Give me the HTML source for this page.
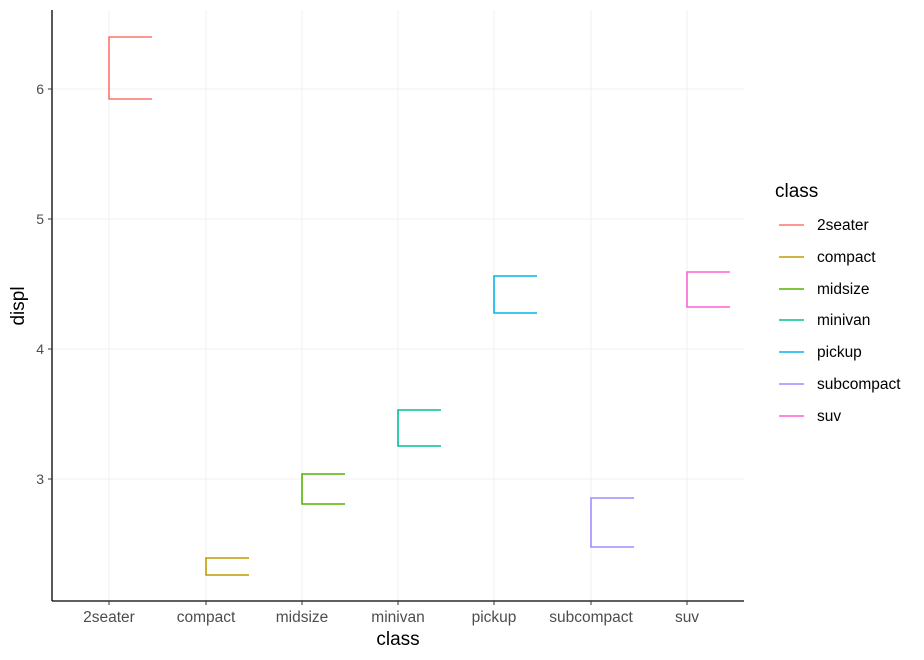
<!DOCTYPE html>
<html><head><meta charset="utf-8"><style>body{margin:0;background:#fff}svg{display:block}text{font-family:"Liberation Sans",sans-serif}</style></head><body>
<svg width="924" height="660" viewBox="0 0 924 660">
<g stroke="#f0f0f0" stroke-width="1">
<line x1="52" x2="744" y1="89" y2="89"/><line x1="52" x2="744" y1="219" y2="219"/><line x1="52" x2="744" y1="349" y2="349"/><line x1="52" x2="744" y1="479" y2="479"/>
<line x1="109" x2="109" y1="10" y2="601"/><line x1="206" x2="206" y1="10" y2="601"/><line x1="302" x2="302" y1="10" y2="601"/><line x1="398" x2="398" y1="10" y2="601"/><line x1="494" x2="494" y1="10" y2="601"/><line x1="591" x2="591" y1="10" y2="601"/><line x1="687" x2="687" y1="10" y2="601"/>
</g>
<g fill="none" stroke-width="1.6">
<path d="M152 37H109V99H152" stroke="#F8766D"/>
<path d="M249 558H206V575H249" stroke="#C49A00"/>
<path d="M345 474H302V504H345" stroke="#53B400"/>
<path d="M441 410H398V446H441" stroke="#00C094"/>
<path d="M537 276H494V313H537" stroke="#00B6EB"/>
<path d="M634 498H591V547H634" stroke="#A58AFF"/>
<path d="M730 272H687V307H730" stroke="#FB61D7"/>
</g>
<g stroke="#000" stroke-width="1.3"><line x1="52" x2="52" y1="10" y2="601"/><line x1="52" x2="744" y1="601" y2="601"/></g>
<g stroke="#333"><line x1="48" x2="52" y1="89" y2="89"/><line x1="48" x2="52" y1="219" y2="219"/><line x1="48" x2="52" y1="349" y2="349"/><line x1="48" x2="52" y1="479" y2="479"/>
<line x1="109" x2="109" y1="601" y2="605"/><line x1="206" x2="206" y1="601" y2="605"/><line x1="302" x2="302" y1="601" y2="605"/><line x1="398" x2="398" y1="601" y2="605"/><line x1="494" x2="494" y1="601" y2="605"/><line x1="591" x2="591" y1="601" y2="605"/><line x1="687" x2="687" y1="601" y2="605"/></g>
<g font-size="14" fill="#4d4d4d" text-anchor="end"><text x="44" y="94">6</text><text x="44" y="224">5</text><text x="44" y="354">4</text><text x="44" y="484">3</text></g>
<g font-size="15.5" fill="#4d4d4d" text-anchor="middle"><text x="109" y="622">2seater</text><text x="206" y="622">compact</text><text x="302" y="622">midsize</text><text x="398" y="622">minivan</text><text x="494" y="622">pickup</text><text x="591" y="622">subcompact</text><text x="687" y="622">suv</text></g>
<text x="398" y="645" font-size="19" text-anchor="middle">class</text>
<text transform="translate(24 306) rotate(-90)" font-size="19" text-anchor="middle">displ</text>
<text x="775" y="197" font-size="19">class</text>
<g stroke-width="1.6">
<line x1="779" x2="804" y1="225" y2="225" stroke="#F8766D"/><line x1="779" x2="804" y1="257" y2="257" stroke="#C49A00"/><line x1="779" x2="804" y1="289" y2="289" stroke="#53B400"/><line x1="779" x2="804" y1="320" y2="320" stroke="#00C094"/><line x1="779" x2="804" y1="352" y2="352" stroke="#00B6EB"/><line x1="779" x2="804" y1="384" y2="384" stroke="#A58AFF"/><line x1="779" x2="804" y1="416" y2="416" stroke="#FB61D7"/>
</g>
<g font-size="15.5"><text x="817" y="230">2seater</text><text x="817" y="262">compact</text><text x="817" y="294">midsize</text><text x="817" y="325">minivan</text><text x="817" y="357">pickup</text><text x="817" y="389">subcompact</text><text x="817" y="421">suv</text></g>
</svg>
</body></html>
